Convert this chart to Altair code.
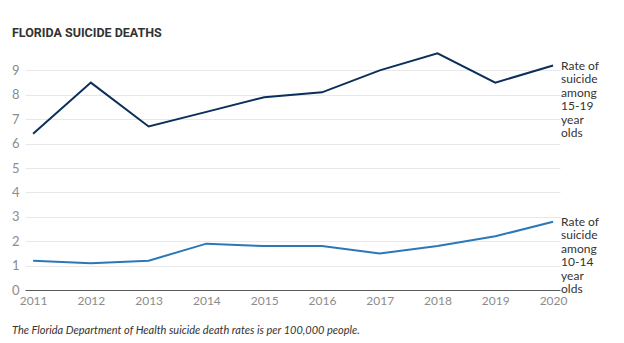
import altair as alt
import pandas as pd

years = [2011, 2012, 2013, 2014, 2015, 2016, 2017, 2018, 2019, 2020]
rate_15_19 = [6.4, 8.5, 6.7, 7.3, 7.9, 8.1, 9.0, 9.7, 8.5, 9.2]
rate_10_14 = [1.2, 1.1, 1.2, 1.9, 1.8, 1.8, 1.5, 1.8, 2.2, 2.8]
series_names = ["15-19", "10-14"]
series_colors = ["#0b2f5b", "#2a78b8"]
label_lines = {
    "15-19": ["Rate of", "suicide", "among", "15-19", "year", "olds"],
    "10-14": ["Rate of", "suicide", "among", "10-14", "year", "olds"],
}
y_ticks = [0, 1, 2, 3, 4, 5, 6, 7, 8, 9]
title_text = "FLORIDA SUICIDE DEATHS"
note_text = "The Florida Department of Health suicide death rates is per 100,000 people."

rows = []
for y, a, b in zip(years, rate_15_19, rate_10_14):
    rows.append({"year": y, "rate": a, "series": "15-19"})
    rows.append({"year": y, "rate": b, "series": "10-14"})
df = pd.DataFrame(rows)

last = pd.DataFrame([
    {"year": years[-1], "rate": rate_15_19[-1], "series": "15-19", "label": label_lines["15-19"]},
    {"year": years[-1], "rate": rate_10_14[-1], "series": "10-14", "label": label_lines["10-14"]},
])

FONT = "Lato"
x_scale = alt.Scale(domain=[2010.86, 2020.12], nice=False, zero=False)
y_scale = alt.Scale(domain=[0, 10], nice=False)
color_scale = alt.Scale(domain=series_names, range=series_colors)

x_axis = alt.Axis(title=None, values=years, format="d", grid=False, ticks=False,
                  domainColor="#5a5a5a", domainWidth=1, labelColor="#8c8c8c",
                  labelFontSize=12, labelFont=FONT, labelPadding=5,
                  labelOverlap=False)
y_axis = alt.Axis(title=None, values=y_ticks, domain=False, ticks=False,
                  gridColor="#e8e8e8", gridWidth=1, labelColor="#8c8c8c",
                  labelFontSize=13, labelFont=FONT, labelPadding=6,
                  labelOverlap=False)

lines = alt.Chart(df).mark_line(strokeWidth=2, clip=False).encode(
    x=alt.X("year:Q", scale=x_scale, axis=x_axis),
    y=alt.Y("rate:Q", scale=y_scale, axis=y_axis),
    color=alt.Color("series:N", scale=color_scale, legend=None),
    detail="series:N",
)

labels = alt.Chart(last).mark_text(
    align="left", baseline="top", dx=8, dy=-5, fontSize=12, font=FONT,
    color="#333333", lineHeight=13.5
).encode(
    x=alt.X("year:Q", scale=x_scale, axis=x_axis),
    y=alt.Y("rate:Q", scale=y_scale, axis=y_axis),
    text="label",
)

title = alt.Chart(pd.DataFrame({"t": [title_text]})).mark_text(
    align="left", baseline="alphabetic", fontSize=12.5, fontWeight="bold",
    font="Roboto", color="#333333"
).encode(x=alt.value(-13), y=alt.value(-9), text="t:N")

note = alt.Chart(pd.DataFrame({"t": [note_text]})).mark_text(
    align="left", baseline="alphabetic", fontSize=11, fontStyle="italic",
    font=FONT, color="#333333"
).encode(x=alt.value(-13), y=alt.value(288), text="t:N")

chart = alt.layer(lines, labels, title, note).properties(
    width=535, height=244,
    autosize=alt.AutoSizeParams(type="none"),
    padding={"left": 25, "top": 46, "right": 64, "bottom": 53},
    background="white",
).configure_view(stroke=None)

chart.save("out.html", embed_options={"renderer": "svg", "actions": False})
